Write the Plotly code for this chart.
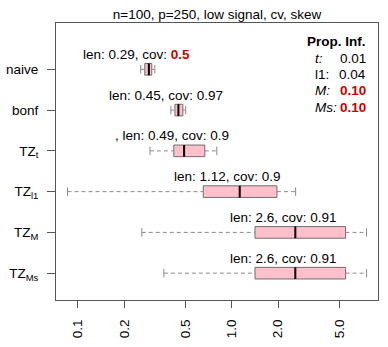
import numpy as np
import plotly.graph_objects as go

# ---- data ----
methods = ["naive", "bonf", "TZ<sub>t</sub>", "TZ<sub>l1</sub>", "TZ<sub>M</sub>", "TZ<sub>Ms</sub>"]
positions = [6, 5, 4, 3, 2, 1]
whisk_lo = [0.256, 0.402, 0.294, 0.0855, 0.260, 0.362]
q1 = [0.272, 0.427, 0.420, 0.653, 1.417, 1.417]
median = [0.289, 0.450, 0.490, 1.127, 2.592, 2.592]
q3 = [0.302, 0.481, 0.668, 1.968, 5.50, 5.50]
whisk_hi = [0.316, 0.502, 0.799, 2.604, 7.53, 7.53]
len_prefix = ["len: 0.29, cov: ", "len: 0.45, cov: ", ", len: 0.49, cov: ",
              "len: 1.12, cov: ", "len: 2.6, cov: ", "len: 2.6, cov: "]
cov_text = ["0.5", "0.97", "0.9", "0.9", "0.91", "0.91"]
cov_flag = [True, False, False, False, False, False]

x_tickvals = [0.1, 0.2, 0.5, 1.0, 2.0, 5.0]
x_ticktext = ["0.1", "0.2", "0.5", "1.0", "2.0", "5.0"]

prop_names = ["t:", "l1:", "M:", "Ms:"]
prop_italic = [True, False, True, True]
prop_values = ["0.01", "0.04", "0.10", "0.10"]
prop_flag = [False, False, True, True]

# ---- style ----
W, H = 388, 347
ML, MR, MT, MB = 56, 10, 23, 47
FONT = "Liberation Sans, Arial, sans-serif"
FS = 13.5
RED = "#CD0000"
BOXW = 0.285
GRAY_W = "#8a8a8a"

fig = go.Figure()

fig.add_trace(go.Box(
    y=positions, q1=q1, median=median, q3=q3,
    lowerfence=q1, upperfence=q3,
    orientation="h", width=BOXW, whiskerwidth=0,
    fillcolor="#FFC0CB", line=dict(color="#6e6e6e", width=1),
    boxpoints=False, hoverinfo="skip", showlegend=False,
))

# dashed whiskers
wx, wy = [], []
for p, lo, a, b, hi in zip(positions, whisk_lo, q1, q3, whisk_hi):
    wx += [lo, a, None, b, hi, None]
    wy += [p, p, None, p, p, None]
fig.add_trace(go.Scatter(x=wx, y=wy, mode="lines",
                         line=dict(color=GRAY_W, width=1, dash="4px,3px"),
                         hoverinfo="skip", showlegend=False))
# staples
fig.add_trace(go.Scatter(x=whisk_lo + whisk_hi, y=positions + positions, mode="markers",
                         marker=dict(symbol="line-ns", size=6,
                                     line=dict(color=GRAY_W, width=1)),
                         hoverinfo="skip", showlegend=False))
# medians
mx, my = [], []
for p, m in zip(positions, median):
    mx += [m, m, None]
    my += [p - BOXW / 2, p + BOXW / 2, None]
fig.add_trace(go.Scatter(x=mx, y=my, mode="lines",
                         line=dict(color="black", width=2),
                         hoverinfo="skip", showlegend=False))

annotations = []
for p, m, pre, cv, fl in zip(positions, median, len_prefix, cov_text, cov_flag):
    txt = pre + (f"<b><span style='color:{RED}'>{cv}</span></b>" if fl else cv)
    annotations.append(dict(x=np.log10(m), y=p, xref="x", yref="y", text=txt,
                            showarrow=False, xanchor="center", yanchor="middle",
                            xshift=-12, yshift=15,
                            font=dict(family=FONT, size=FS, color="black")))

pw, ph = W - ML - MR, H - MT - MB
def px_x(x):
    return (x - ML) / pw
def px_y(y):
    return (H - MB - y) / ph

annotations.append(dict(x=px_x(368), y=px_y(42), xref="paper", yref="paper",
                        text="<b>Prop. Inf.</b>", showarrow=False,
                        xanchor="right", yanchor="middle",
                        font=dict(family=FONT, size=FS, color="black")))
row_y = [58.5, 74.5, 90.5, 107]
for yy, nm, it, v, fl in zip(row_y, prop_names, prop_italic, prop_values, prop_flag):
    annotations.append(dict(x=px_x(313), y=px_y(yy), xref="paper", yref="paper",
                            text=(f"<i>{nm}</i>" if it else nm), showarrow=False,
                            xanchor="left", yanchor="middle",
                            font=dict(family=FONT, size=FS, color="black")))
    annotations.append(dict(x=px_x(368), y=px_y(yy), xref="paper", yref="paper",
                            text=(f"<b>{v}</b>" if fl else v), showarrow=False,
                            xanchor="right", yanchor="middle",
                            font=dict(family=FONT, size=FS, color=RED if fl else "black")))

fig.update_layout(
    width=W, height=H,
    margin=dict(l=ML, r=MR, t=MT, b=MB, pad=0, autoexpand=False),
    paper_bgcolor="white", plot_bgcolor="white",
    showlegend=False,
    font=dict(family=FONT, size=FS, color="black"),
    title=dict(text="n=100, p=250, low signal, cv, skew", x=0.5, xref="paper",
               xanchor="center", y=1 - 14 / H, yanchor="middle",
               font=dict(family=FONT, size=FS, color="black")),
    annotations=annotations,
    xaxis=dict(type="log", range=[-1.1429, 0.9513], tickvals=x_tickvals, ticktext=x_ticktext,
               tickangle=-90, ticks="outside", ticklen=7, tickcolor="#555",
               showline=True, linecolor="#555", linewidth=1, mirror=True,
               showgrid=False, zeroline=False, automargin=False, ticklabelstandoff=6,
               tickfont=dict(family=FONT, size=FS, color="black")),
    yaxis=dict(range=[0.342, 7.136], tickvals=positions, ticktext=methods,
               ticks="outside", ticklen=8, tickcolor="#555",
               showline=True, linecolor="#555", linewidth=1, mirror=True,
               showgrid=False, zeroline=False, automargin=False, ticklabelstandoff=6,
               tickfont=dict(family=FONT, size=FS, color="black")),
)

fig.write_html("out.html", config={"displayModeBar": False},
               post_script="document.body.style.margin='0px';")
